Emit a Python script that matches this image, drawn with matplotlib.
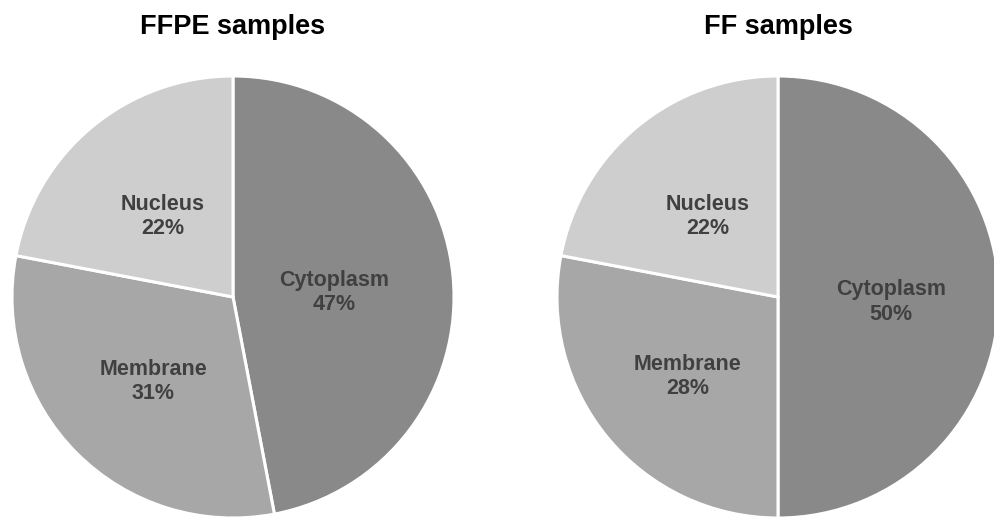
import matplotlib
matplotlib.use("Agg")
import matplotlib.pyplot as plt
import numpy as np

plt.rcParams['font.family'] = ['Liberation Sans', 'DejaVu Sans']

# compartment shares for the two sample types
compartments = ['Cytoplasm', 'Membrane', 'Nucleus']
ffpe_pct = [47, 31, 22]
ff_pct = [50, 28, 22]
titles = ['FFPE samples', 'FF samples']

colors = ['#898989', '#a7a7a7', '#cecece']

W, H = 994, 518
fig = plt.figure(figsize=(W / 100, H / 100), dpi=100)
fig.patch.set_facecolor('white')

radius_px = 221
centers = [(233, 297), (778, 297)]
# how far out (fraction of radius) each wedge label sits
label_r = [[0.46, 0.51, 0.50], [0.51, 0.53, 0.50]]
label_drop = 5 / radius_px


def draw_pie(cx, cy, values, title, lr):
    # axes box sized in pixels so the pie lands where we want it
    ax = fig.add_axes([(cx - radius_px) / W, (H - cy - radius_px) / H,
                       2 * radius_px / W, 2 * radius_px / H])
    wedges, _ = ax.pie(values, colors=colors, startangle=90, counterclock=False,
                       radius=1.0,
                       wedgeprops=dict(edgecolor='white', linewidth=2.2))
    for w, name, v, r in zip(wedges, compartments, values, lr):
        ang = np.deg2rad((w.theta1 + w.theta2) / 2)
        ax.text(r * np.cos(ang), r * np.sin(ang) - label_drop, f'{name}\n{v}%',
                ha='center', va='center', fontsize=15.5, fontweight='bold',
                color='#404040', linespacing=1.2)
    ax.set_xlim(-1, 1)
    ax.set_ylim(-1, 1)
    ax.set_axis_off()
    fig.text(cx / W, (H - 34) / H, title, ha='center', va='baseline',
             fontsize=19.5, fontweight='bold', color='black')


draw_pie(*centers[0], ffpe_pct, titles[0], label_r[0])
draw_pie(*centers[1], ff_pct, titles[1], label_r[1])

fig.savefig('out.png', dpi=100, facecolor='white')
